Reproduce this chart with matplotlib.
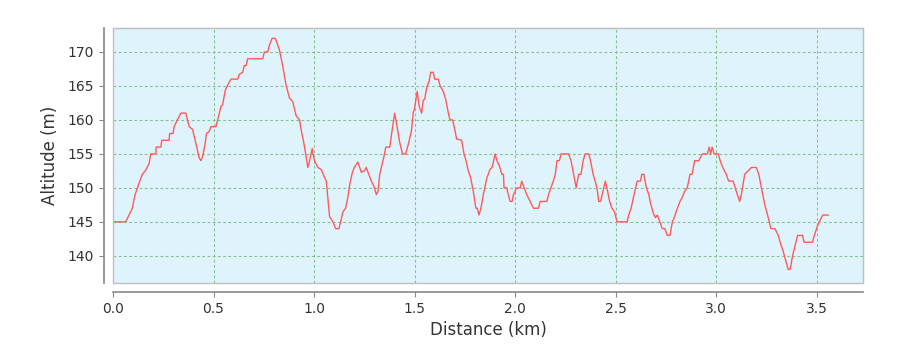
import matplotlib
matplotlib.use("Agg")
import matplotlib.pyplot as plt
from matplotlib.patches import Rectangle

# elevation profile (distance in km, altitude in m)
distance_km = [0, 0.063, 0.08, 0.096, 0.11, 0.13, 0.146, 0.163, 0.18, 0.188, 0.213, 0.215, 0.238, 0.243,
               0.279, 0.282, 0.299, 0.304, 0.32, 0.338, 0.362, 0.379, 0.396, 0.412, 0.429, 0.437, 0.446,
               0.459, 0.465, 0.479, 0.487, 0.512, 0.525, 0.537, 0.545, 0.559, 0.570, 0.587, 0.62, 0.628,
               0.645, 0.653, 0.662, 0.670, 0.745, 0.753, 0.77, 0.778, 0.791, 0.808, 0.82, 0.828, 0.845,
               0.861, 0.878, 0.894, 0.911, 0.928, 0.936, 0.948, 0.958, 0.969, 0.978, 0.991, 0.995, 1.002,
               1.019, 1.036, 1.047, 1.061, 1.077, 1.094, 1.107, 1.124, 1.144, 1.157, 1.169, 1.177, 1.19,
               1.2, 1.218, 1.235, 1.25, 1.26, 1.272, 1.285, 1.297, 1.31, 1.318, 1.327, 1.335, 1.347,
               1.357, 1.377, 1.385, 1.401, 1.413, 1.426, 1.44, 1.456, 1.473, 1.485, 1.493, 1.5, 1.513,
               1.523, 1.535, 1.543, 1.55, 1.56, 1.573, 1.58, 1.593, 1.6, 1.618, 1.627, 1.643, 1.655,
               1.668, 1.676, 1.689, 1.7, 1.709, 1.734, 1.746, 1.756, 1.767, 1.779, 1.792, 1.805, 1.812,
               1.82, 1.83, 1.842, 1.859, 1.875, 1.885, 1.892, 1.90, 1.91, 1.922, 1.934, 1.942, 1.945,
               1.958, 1.975, 1.985, 1.992, 2.008, 2.025, 2.033, 2.045, 2.058, 2.075, 2.091, 2.116, 2.125,
               2.158, 2.166, 2.178, 2.19, 2.2, 2.208, 2.22, 2.229, 2.266, 2.278, 2.291, 2.304, 2.316,
               2.328, 2.338, 2.349, 2.366, 2.375, 2.388, 2.398, 2.407, 2.416, 2.425, 2.437, 2.449, 2.46,
               2.47, 2.482, 2.494, 2.507, 2.557, 2.565, 2.577, 2.587, 2.599, 2.607, 2.624, 2.63, 2.64,
               2.653, 2.665, 2.673, 2.687, 2.698, 2.707, 2.72, 2.732, 2.745, 2.757, 2.77, 2.782, 2.79,
               2.807, 2.82, 2.83, 2.843, 2.856, 2.87, 2.88, 2.893, 2.914, 2.931, 2.956, 2.965, 2.972,
               2.98, 2.99, 3.01, 3.02, 3.033, 3.05, 3.062, 3.084, 3.1, 3.117, 3.125, 3.142, 3.159, 3.175,
               3.2, 3.212, 3.225, 3.242, 3.259, 3.272, 3.292, 3.309, 3.322, 3.33, 3.347, 3.358, 3.368,
               3.38, 3.397, 3.405, 3.43, 3.437, 3.479, 3.488, 3.505, 3.513, 3.53, 3.557]
altitude_m = [145, 145, 146, 147, 149, 150.7, 152, 152.6, 153.6, 155, 155, 156, 156, 157,
              157, 158, 158, 159, 160, 161, 161, 159, 158.6, 156.6, 154.4, 154, 154.6,
              156.6, 158, 158.3, 159, 159, 160.5, 162, 162.2, 164.4, 165.1, 166, 166, 166.7,
              167, 168, 168, 169, 169, 170, 170, 171, 172, 172, 171, 170.3, 167.8,
              165.1, 163.2, 162.7, 160.6, 160, 158.5, 156.8, 155.1, 153, 154, 155.8, 155, 154,
              153, 152.7, 151.9, 151, 145.8, 145, 144, 144, 146.5, 147, 148.7, 150.4, 152.2,
              153, 153.8, 152.3, 152.5, 153, 152, 151, 150.3, 149, 149.5, 152, 153, 154.5,
              156, 156, 157.8, 161, 159, 156.7, 155, 155, 156.9, 158.5, 161, 161.7, 164.2,
              162, 161, 162.9, 163, 164.7, 165.8, 167, 167, 166, 166, 165, 164.2, 163,
              161, 160, 160, 158.6, 157.2, 157, 155, 154, 152.5, 151.5, 149.5, 147, 147,
              146, 147, 149, 151.4, 152.7, 153, 153.8, 155, 154, 153.2, 152, 152, 150,
              150, 148, 148, 149, 150, 150, 151, 150, 149, 148, 147, 147, 148,
              148, 149, 150, 151, 152, 154, 154, 155, 155, 154, 152, 150, 152,
              152, 154, 155, 155, 154, 152, 151, 150, 148, 148, 149.5, 151, 149.5,
              148, 147, 146.5, 145, 145, 146, 147, 148.4, 150, 151, 151, 152, 152,
              150, 149, 147.8, 146.3, 145.6, 146, 145, 144, 144, 143, 143, 145, 145.5,
              147, 148, 148.5, 149.5, 150, 152, 152, 154, 154, 155, 155, 156, 155,
              156, 155, 155, 154, 153, 152, 151, 151, 149.5, 148, 149, 152, 152.5, 153,
              153, 152, 150, 147.5, 145.6, 144, 144, 143, 141.6, 141, 139.2, 138, 138,
              140, 142, 143, 143, 142, 142, 143, 144.5, 145, 146, 146]

x_ticks = [0.0, 0.5, 1.0, 1.5, 2.0, 2.5, 3.0, 3.5]
y_ticks = [140, 145, 150, 155, 160, 165, 170]

fig = plt.figure(figsize=(9.2, 3.6), dpi=100)
ax = fig.add_axes([0.1228, 0.2139, 0.8152, 0.7097])
ax.set_facecolor('#dff3fd')

ax.plot(distance_km, altitude_m, color='#ff5a5a', lw=1.0, zorder=3)

ax.set_xlim(0, 3.73)
ax.set_ylim(136.0, 173.6)
ax.set_xticks(x_ticks)
ax.set_yticks(y_ticks)
ax.set_xticklabels(['%.1f' % t for t in x_ticks])

ax.grid(True, color='#86c08c', linestyle=(0, (2.5, 2.2)), lw=0.8, zorder=1)

# axis lines pushed away from the plot area
for side in ['left', 'bottom']:
    ax.spines[side].set_position(('outward', 6.5))
    ax.spines[side].set_color('#888888')
    ax.spines[side].set_linewidth(1.2)
for side in ['top', 'right']:
    ax.spines[side].set_color('#c0c0c0')
ax.add_patch(Rectangle((0, 0), 1, 1, transform=ax.transAxes, fill=False,
                       edgecolor='#c0c0c0', lw=1.0, zorder=4, clip_on=False))

ax.tick_params(axis='both', colors='#888888', labelcolor='#333333', labelsize=10, length=3.5)
ax.set_xlabel('Distance (km)', fontsize=12, color='#333333', labelpad=4)
ax.set_ylabel('Altitude (m)', fontsize=12, color='#333333', labelpad=6)

plt.savefig('out.png', dpi=100)
